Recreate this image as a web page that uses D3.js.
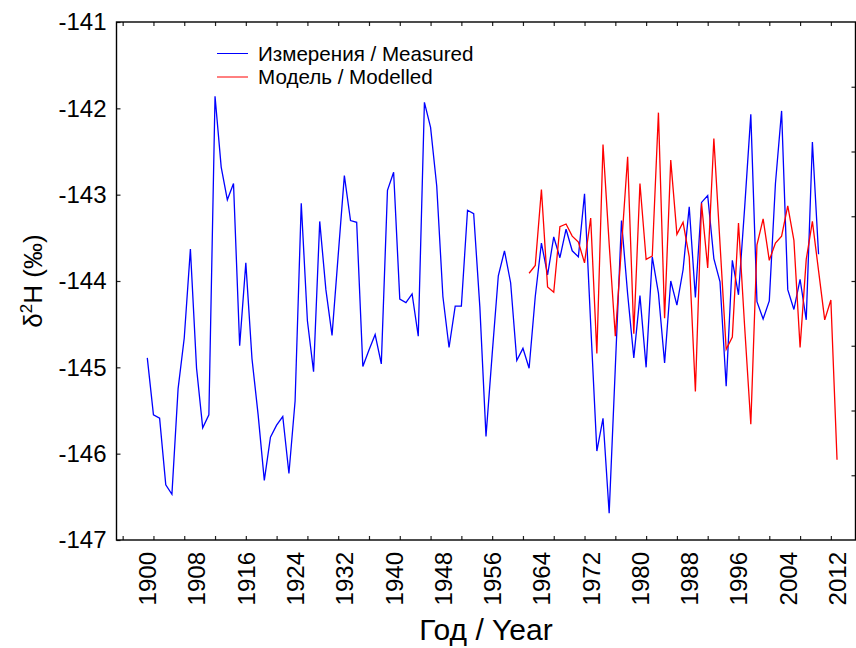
<!DOCTYPE html>
<html>
<head>
<meta charset="utf-8">
<script src="https://cdn.jsdelivr.net/npm/d3@7"></script>
<style>
  body { margin: 0; background: #fff; }
  svg text { font-family: "Liberation Sans", Arial, sans-serif; fill: #000; }
</style>
</head>
<body>
<div id="chart"></div>
<script>
// Data (one value per year)
const measuredStart = 1900;
const measured = [
  -144.89, -145.55, -145.59, -146.36, -146.47, -145.25, -144.66, -143.63, -145.01, -145.70,
  -145.55, -141.86, -142.68, -143.06, -142.87, -144.75, -143.79, -144.90, -145.55, -146.31,
  -145.81, -145.67, -145.57, -146.23, -145.39, -143.10, -144.46, -145.05, -143.31, -144.10,
  -144.63, -143.70, -142.78, -143.30, -143.32, -144.99, -144.80, -144.62, -144.96, -142.95,
  -142.74, -144.21, -144.25, -144.15, -144.64, -141.93, -142.22, -142.90, -144.18, -144.77,
  -144.29, -144.29, -143.18, -143.22, -144.30, -145.80, -144.85, -143.94, -143.65, -144.02,
  -144.92, -144.78, -145.01, -144.18, -143.56, -143.93, -143.49, -143.73, -143.40, -143.65,
  -143.72, -142.99, -144.50, -145.97, -145.59, -146.69, -145.00, -143.30, -144.15, -144.89,
  -144.17, -145.00, -143.72, -144.14, -144.95, -144.00, -144.28, -143.87, -143.14, -144.19,
  -143.09, -143.01, -143.74, -144.01, -145.22, -143.76, -144.16, -143.15, -142.07, -144.24,
  -144.44, -144.23, -142.87, -142.03, -144.10, -144.33, -143.98, -144.45, -142.39, -143.69
];

const modelledStart = 1962;
const modelled = [
  -143.91, -143.82, -142.94, -144.07, -144.13, -143.37, -143.34, -143.48,
  -143.55, -143.79, -143.27, -144.84, -142.42, -143.57, -144.64, -143.60, -142.56, -144.61,
  -142.87, -143.75, -143.71, -142.05, -144.43, -142.60, -143.46, -143.32, -143.72, -145.28,
  -143.10, -143.85, -142.35, -143.57, -144.79, -144.65, -143.33, -144.53, -145.66, -143.58,
  -143.28, -143.76, -143.56, -143.48, -143.13, -143.53, -144.77, -143.75, -143.31, -143.88,
  -144.45, -144.22, -146.07
];

const yTickValues = [-141, -142, -143, -144, -145, -146, -147];
const xLabelYears = [1900, 1908, 1916, 1924, 1932, 1940, 1948, 1956, 1964, 1972, 1980, 1988, 1996, 2004, 2012];
const xTickYears = d3.range(1896, 2012, 5);
const legendLabels = ["Измерения / Measured", "Модель / Modelled"];
const seriesColors = ["#0000ff", "#ff0000"];

// Chart dimensions
const width = 856;
const height = 648;
const marginTop = 22;
const marginRight = 0.5;
const marginBottom = 108;
const marginLeft = 116.5;

const x = d3.scaleLinear([1895, 2015], [marginLeft, width - marginRight]);
const y = d3.scaleLinear([-147, -141], [height - marginBottom, marginTop]);
// right side ticks divide the frame into 8 parts
const yRight = d3.scaleLinear([0, 8], [height - marginBottom, marginTop]);

const svg = d3.create("svg")
    .attr("width", width)
    .attr("height", height);

const fontSize = 24;

// left axis (labels + inward ticks)
const yAxis = svg.append("g")
    .attr("transform", `translate(${marginLeft},0)`)
    .call(d3.axisLeft(y).tickValues(yTickValues).tickSizeInner(-4).tickSizeOuter(0).tickPadding(10).tickFormat(d3.format("d")));
yAxis.select(".domain").remove();
yAxis.attr("font-size", fontSize).attr("font-family", null);
yAxis.selectAll(".tick line").attr("stroke", "#222").attr("stroke-width", 1.2);
yAxis.selectAll(".tick text").text(d => "-" + Math.abs(d));

// right axis ticks only
const yAxisR = svg.append("g")
    .attr("transform", `translate(${width - marginRight},0)`)
    .call(d3.axisRight(yRight).tickValues([1, 2, 3, 4, 5, 6, 7]).tickSizeInner(-4).tickSizeOuter(0).tickFormat(""));
yAxisR.select(".domain").remove();
yAxisR.selectAll(".tick line").attr("stroke", "#222").attr("stroke-width", 1.2);

// top ticks
const xAxisTop = svg.append("g")
    .attr("transform", `translate(0,${marginTop})`)
    .call(d3.axisTop(x).tickValues(xTickYears).tickSizeInner(-4).tickSizeOuter(0).tickFormat(""));
xAxisTop.select(".domain").remove();
xAxisTop.selectAll(".tick line").attr("stroke", "#222").attr("stroke-width", 1.2);

// bottom ticks
const xAxisTicks = svg.append("g")
    .attr("transform", `translate(0,${height - marginBottom})`)
    .call(d3.axisBottom(x).tickValues(xTickYears).tickSizeInner(-4).tickSizeOuter(0).tickFormat(""));
xAxisTicks.select(".domain").remove();
xAxisTicks.selectAll(".tick line").attr("stroke", "#222").attr("stroke-width", 1.2);

// bottom labels, rotated
const xAxis = svg.append("g")
    .attr("transform", `translate(0,${height - marginBottom})`)
    .call(d3.axisBottom(x).tickValues(xLabelYears).tickSize(0).tickFormat(d3.format("d")));
xAxis.select(".domain").remove();
xAxis.attr("font-size", fontSize).attr("font-family", null);
xAxis.selectAll(".tick text")
    .attr("transform", "rotate(-90)")
    .attr("text-anchor", "end")
    .attr("x", -12)
    .attr("y", 0)
    .attr("dy", "0.35em");

// frame
svg.append("rect")
    .attr("x", marginLeft)
    .attr("y", marginTop)
    .attr("width", width - marginRight - marginLeft)
    .attr("height", height - marginBottom - marginTop)
    .attr("fill", "none")
    .attr("stroke", "#000")
    .attr("stroke-width", 1.4);

// series
const line = d3.line()
    .x(d => x(d.year))
    .y(d => y(d.value));

const measuredData = measured.map((v, i) => ({year: measuredStart + i, value: v}));
const modelledData = modelled.map((v, i) => ({year: modelledStart + i, value: v}));

svg.append("path")
    .attr("fill", "none")
    .attr("stroke", seriesColors[0])
    .attr("stroke-width", 1.3)
    .attr("d", line(measuredData));

svg.append("path")
    .attr("fill", "none")
    .attr("stroke", seriesColors[1])
    .attr("stroke-width", 1.3)
    .attr("d", line(modelledData));

// legend
const legend = svg.append("g");
legendLabels.forEach((label, i) => {
    const ly = 53.5 + i * 23.5;
    legend.append("line")
        .attr("x1", 217).attr("x2", 248)
        .attr("y1", ly).attr("y2", ly)
        .attr("stroke", seriesColors[i])
        .attr("stroke-width", 1);
    legend.append("text")
        .attr("x", 258)
        .attr("y", ly)
        .attr("dy", "0.35em")
        .attr("font-size", 20.6)
        .text(label);
});

// axis titles
svg.append("text")
    .attr("x", (marginLeft + width - marginRight) / 2)
    .attr("y", 640)
    .attr("text-anchor", "middle")
    .attr("font-size", 30)
    .text("Год / Year");

const yTitle = svg.append("text")
    .attr("transform", `translate(42,281) rotate(-90)`)
    .attr("text-anchor", "middle")
    .attr("font-size", 26);
yTitle.append("tspan").text("δ");
yTitle.append("tspan").attr("font-size", 17).attr("dy", -10).text("2");
yTitle.append("tspan").attr("dy", 10).text("H (‰)");

document.getElementById("chart").append(svg.node());
</script>
</body>
</html>
